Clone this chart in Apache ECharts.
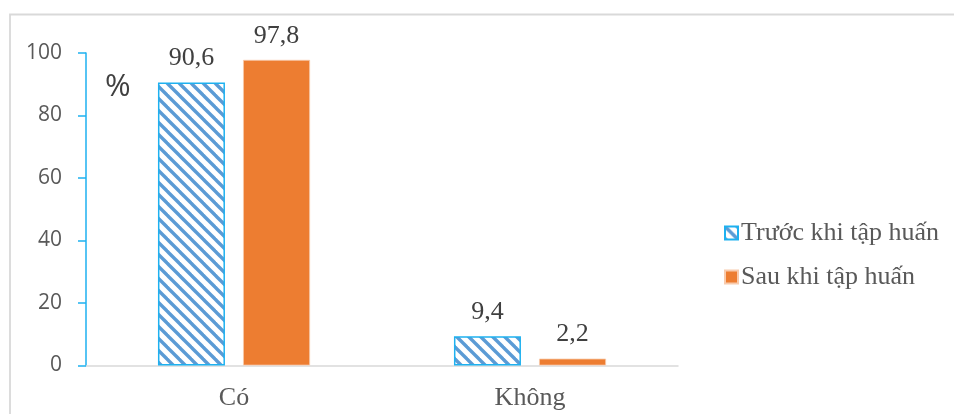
<!DOCTYPE html>
<html>
<head>
<meta charset="utf-8">
<script src="https://cdn.jsdelivr.net/npm/echarts@6/dist/echarts.min.js"></script>
<style>
  html, body { margin: 0; padding: 0; background: #fff; }
  #chart { width: 954px; height: 414px; }
</style>
</head>
<body>
<div id="chart"></div>
<script>
// Answers grouped by category, before and after training (%)
const categories = ['Có', 'Không'];
const seriesNames = ['Trước khi tập huấn', 'Sau khi tập huấn'];
const beforeValues = [90.6, 9.4];
const afterValues = [97.8, 2.2];
const yTicks = [0, 20, 40, 60, 80, 100];

// Diagonal hatch used for the "before" series
function makeHatch() {
  const size = 12;
  const c = document.createElement('canvas');
  c.width = size; c.height = size;
  const g = c.getContext('2d');
  g.fillStyle = '#ffffff';
  g.fillRect(0, 0, size, size);
  g.strokeStyle = '#5b9bd5';
  g.lineWidth = 3.4;
  g.lineCap = 'square';
  [-size, 0, size].forEach(function (k) {
    g.beginPath();
    g.moveTo(k, 0);
    g.lineTo(k + size, size);
    g.stroke();
  });
  return c;
}

const fmt = function (v) { return String(v).replace('.', ','); };
const serif = '"Liberation Serif", "Times New Roman", serif';
const sans = '"Open Sans", "Liberation Sans", sans-serif';

const chart = echarts.init(document.getElementById('chart'), null, { renderer: 'canvas' });

const labelStyle = {
  show: true,
  position: 'top',
  distance: 11,
  fontFamily: serif,
  fontSize: 26,
  color: '#404040',
  formatter: function (p) { return fmt(p.value); }
};

chart.setOption({
  animation: false,
  backgroundColor: '#ffffff',
  grid: { left: 86, right: 276, top: 53, bottom: 48.5, containLabel: false },
  graphic: [
    {
      type: 'polyline',
      shape: { points: [[10, 430], [10, 14.5], [960, 14.5]] },
      style: { stroke: '#d9d9d9', lineWidth: 1.8, fill: null },
      silent: true
    },
    {
      type: 'text',
      left: 105,
      top: 72,
      style: { text: '%', fontFamily: sans, fontSize: 31, fill: '#404040' },
      silent: true
    }
  ],
  legend: {
    orient: 'vertical',
    left: 719,
    top: 215,
    itemWidth: 13,
    itemHeight: 13,
    itemGap: 18,
    icon: 'rect',
    textStyle: { fontFamily: serif, fontSize: 26, color: '#595959', padding: [0, 0, 0, -2] },
    data: seriesNames
  },
  xAxis: {
    type: 'category',
    data: categories,
    axisLine: { show: true, lineStyle: { color: '#d9d9d9', width: 1.5 } },
    axisTick: { show: false },
    axisLabel: { fontFamily: serif, fontSize: 26, color: '#595959', margin: 20 }
  },
  yAxis: {
    type: 'value',
    min: 0,
    max: 100,
    interval: 20,
    axisLine: { show: true, lineStyle: { color: '#1eb1f0', width: 1.5 } },
    axisTick: { show: true, inside: false, length: 8, lineStyle: { color: '#1eb1f0', width: 1.5 } },
    axisLabel: {
      fontFamily: sans, fontSize: 21, color: '#595959', margin: 24,
      formatter: function (v) { return yTicks.indexOf(v) >= 0 ? String(v) : ''; }
    },
    splitLine: { show: false }
  },
  series: [
    {
      name: seriesNames[0],
      type: 'bar',
      data: beforeValues,
      barWidth: 67,
      barGap: '27%',
      itemStyle: {
        color: { image: makeHatch(), repeat: 'repeat' },
        borderColor: '#1eb1f0',
        borderWidth: 1.5
      },
      label: labelStyle
    },
    {
      name: seriesNames[1],
      type: 'bar',
      data: afterValues,
      barWidth: 67,
      itemStyle: { color: '#ed7d31', borderColor: '#f8cbad', borderWidth: 0.8 },
      label: labelStyle
    }
  ]
});
</script>
</body>
</html>
